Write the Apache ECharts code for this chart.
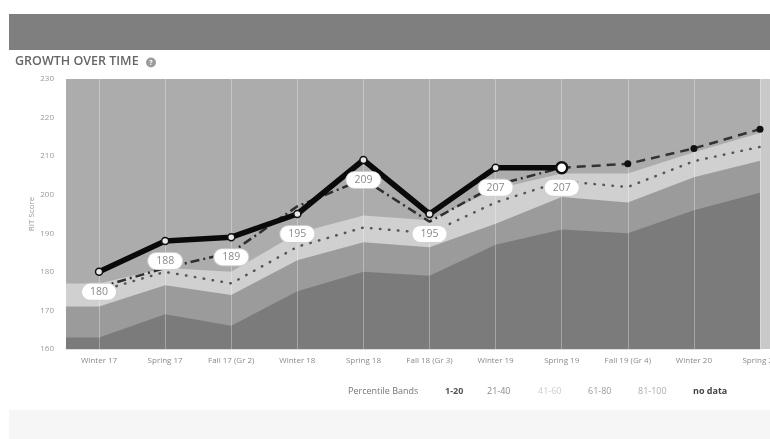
<!DOCTYPE html>
<html>
<head>
<meta charset="utf-8">
<script src="https://cdn.jsdelivr.net/npm/echarts@6/dist/echarts.min.js"></script>
<style>
  html, body { margin: 0; padding: 0; background: #fff; }
  #chart { width: 770px; height: 439px; }
</style>
</head>
<body>
<div id="chart"></div>
<script>
// Test seasons along the x axis
const categories = ['Winter 17', 'Spring 17', 'Fall 17 (Gr 2)', 'Winter 18', 'Spring 18',
  'Fall 18 (Gr 3)', 'Winter 19', 'Spring 19', 'Fall 19 (Gr 4)', 'Winter 20', 'Spring 20'];

// Upper edge of each norm percentile band (RIT score)
const band20 = [163, 169, 166, 175, 180, 179, 187, 191, 190, 196, 200.5];
const band40 = [171, 176.5, 174, 183, 187.7, 186.4, 192.5, 199.4, 198, 204.5, 208.8];
const band60 = [177, 181, 180, 190, 194.6, 193.4, 201.5, 205.5, 205.5, 211, 216];

// Norm median (dotted)
const normMedian = [175, 180, 177, 186.5, 191.5, 190, 198, 203.5, 202, 208.7, 212.4];

// Student RIT scores (solid) and growth trend (dash-dot)
const ritScores = [180, 188, 189, 195, 209, 195, 207, 207];
const growthTrend = [176, 181, 185, 197, 204, 193, 202.5, 207];

// Projected scores (dashed), continuing from the latest test
const projected = [null, null, null, null, null, null, null, 207, 208, 212, 217];

// Y axis range
const yMin = 160, yMax = 230, yStep = 10;

// Legend entries
const legendItems = [
  { text: '1-20', color: '#555', bold: true },
  { text: '21-40', color: '#8a8a8a' },
  { text: '41-60', color: '#cdcdcd' },
  { text: '61-80', color: '#9a9a9a' },
  { text: '81-100', color: '#ababab' },
  { text: 'no data', color: '#444', bold: true }
];

const FONT = "'Open Sans', 'Noto Sans', sans-serif";
const toPoints = arr => arr.map((v, i) => [i, v]).filter(p => p[1] != null);
// bands are held flat out to the left edge of the plot
const bandPoints = arr => [[-0.5, arr[0]]].concat(toPoints(arr));

function bandSeries(name, arr, color, z) {
  return {
    name, type: 'line', data: bandPoints(arr), z,
    symbol: 'none', silent: true,
    lineStyle: { width: 0 },
    areaStyle: { color, opacity: 1, origin: 'start' }
  };
}

const lastIdx = ritScores.length - 1;
const studentData = ritScores.map((v, i) => i === lastIdx
  ? { value: [i, v], symbolSize: 11, itemStyle: { color: '#fff', borderColor: '#111', borderWidth: 2.5 } }
  : [i, v]);

const projData = toPoints(projected).map((p, i) => i === 0 ? { value: p, symbolSize: 0 } : p);

// Legend laid out as plain coloured labels
const legendX = [445, 487, 538, 588, 638, 693];
const legendGraphics = [{
  type: 'text', left: 348, top: 387,
  style: { text: 'Percentile Bands', font: `9px ${FONT}`, fill: '#777' }
}].concat(legendItems.map((it, i) => ({
  type: 'text', left: legendX[i], top: 387,
  style: { text: it.text, font: `${it.bold ? 'bold ' : ''}9px ${FONT}`, fill: it.color }
})));

const chart = echarts.init(document.getElementById('chart'), null, { renderer: 'canvas' });

chart.setOption({
  animation: false,
  textStyle: { fontFamily: FONT },
  grid: {
    left: 66, top: 79, width: 694, height: 270,
    outerBoundsMode: 'none', containLabel: false,
    show: true, backgroundColor: '#acacac', borderWidth: 0
  },
  xAxis: {
    type: 'value', min: -0.5, max: categories.length - 1,
    axisLine: { show: true, lineStyle: { color: '#dedede' } },
    axisTick: { show: false },
    splitLine: { show: false },
    axisLabel: {
      customValues: categories.map((c, i) => i),
      formatter: v => categories[v] || '',
      color: '#8a8a8a', fontSize: 8, margin: 8, fontFamily: FONT
    }
  },
  yAxis: {
    type: 'value', min: yMin, max: yMax, interval: yStep,
    name: 'RIT Score', nameLocation: 'middle', nameGap: 30, nameRotate: 90,
    nameMoveOverlap: false,
    nameTextStyle: { color: '#9a9a9a', fontSize: 8, fontFamily: FONT },
    axisLine: { show: false }, axisTick: { show: false },
    splitLine: { show: false },
    axisLabel: { color: '#999', fontSize: 8, margin: 12, fontFamily: FONT }
  },
  graphic: [
    { type: 'rect', shape: { x: 9, y: 14, width: 761, height: 36 }, style: { fill: '#7f7f7f' } },
    { type: 'text', left: 15, top: 55, style: { text: 'GROWTH OVER TIME', font: `600 12.5px ${FONT}`, fill: '#666' } },
    { type: 'circle', shape: { cx: 151, cy: 62.5, r: 5 }, style: { fill: '#9c9c9c' } },
    { type: 'text', x: 151, y: 62.5, style: { text: '?', font: `bold 7px ${FONT}`, fill: '#fff', align: 'center', verticalAlign: 'middle' } },
    { type: 'rect', shape: { x: 760, y: 79, width: 10, height: 270 }, style: { fill: '#c9c9c9' } },
    { type: 'rect', shape: { x: 9, y: 410, width: 761, height: 29 }, style: { fill: '#f6f6f6' } }
  ].concat(legendGraphics),
  series: [
    bandSeries('41-60', band60, '#d0d0d0', 1),
    bandSeries('21-40', band40, '#9b9b9b', 1),
    bandSeries('1-20', band20, '#7b7b7b', 1),
    {
      name: 'grid', type: 'line', data: [], z: 2, silent: true,
      markLine: {
        z: 2, silent: true, symbol: 'none', animation: false,
        label: { show: false },
        lineStyle: { color: 'rgba(255,255,255,0.32)', width: 1, type: 'solid' },
        data: categories.map((c, i) => ({ xAxis: i }))
      }
    },
    {
      name: 'Norm median', type: 'line', data: toPoints(normMedian), z: 3,
      symbol: 'none', silent: true,
      lineStyle: { color: '#555', width: 2.5, type: [0.5, 8.5], cap: 'round' }
    },
    {
      name: 'Growth trend', type: 'line', data: toPoints(growthTrend), z: 4,
      symbol: 'none', silent: true,
      lineStyle: { color: '#2e2e2e', width: 2.5, type: [9, 4, 2, 4] }
    },
    {
      name: 'Projected', type: 'line', data: projData, z: 5,
      symbol: 'circle', symbolSize: 7, showSymbol: true, silent: true,
      itemStyle: { color: '#111' },
      lineStyle: { color: '#333', width: 2.5, type: [9, 6] }
    },
    {
      name: 'RIT Score', type: 'line', data: studentData, z: 6,
      symbol: 'circle', symbolSize: 7, showSymbol: true, silent: true,
      itemStyle: { color: '#e8e8e8', borderColor: '#111', borderWidth: 1.5 },
      lineStyle: { color: '#0a0a0a', width: 5.5 },
      label: {
        show: true, position: 'inside', offset: [0, 20],
        formatter: p => p.value[1],
        color: '#8a8a8a', fontSize: 10.5, fontFamily: FONT,
        backgroundColor: '#fff', borderColor: '#cfcfcf', borderWidth: 1,
        borderRadius: 9, padding: [3, 8, 2, 8]
      }
    }
  ]
});
</script>
</body>
</html>
